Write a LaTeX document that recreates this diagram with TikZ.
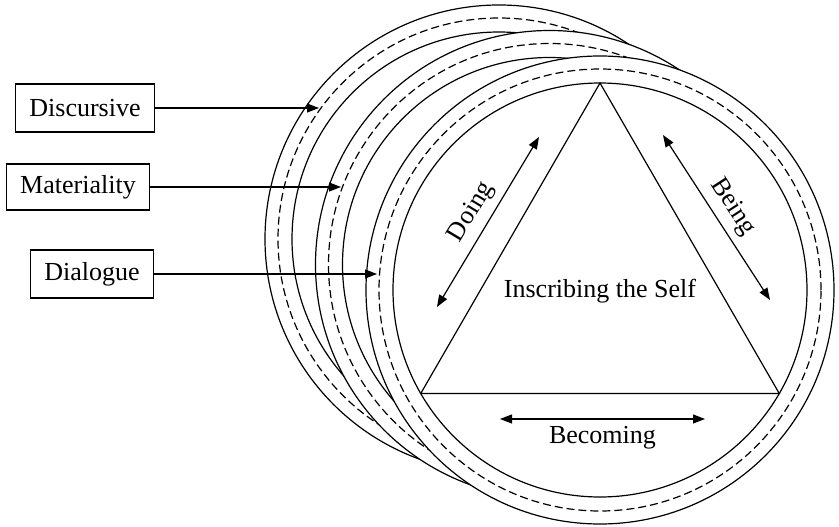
\documentclass[tikz,border=0pt]{standalone}
\usepackage{fontspec}
\setmainfont{Liberation Serif}
\usepackage{tikz}
\usetikzlibrary{arrows.meta,positioning}

\begin{document}
\begin{tikzpicture}[
  x=1pt, y=-1pt,
  every node/.style={font=\fontsize{26}{30}\selectfont},
  ring/.style={circle, draw, line width=1.2pt, inner sep=0pt, outer sep=0pt},
  outring/.style={ring, fill=white, minimum size=468pt},
  dashring/.style={ring, dash pattern=on 8pt off 4pt, minimum size=442pt},
  inring/.style={ring, minimum size=414pt},
  labelbox/.style={draw, line width=1.2pt, minimum height=48pt, inner xsep=14pt},
  arrow/.style={-{Triangle[length=12pt,width=9pt]}, line width=1.2pt},
  dblarrow/.style={{Triangle[length=12pt,width=9pt]}-{Triangle[length=12pt,width=9pt]}, line width=1.2pt}
]
\useasboundingbox (0,0) rectangle (839,527);

% three rings, back to front
\node[outring] (backOut) at (499,239) {};
\node[dashring] (backDash) at (499,239) {};
\node[inring] (backIn) at (499,239) {};
\node[outring] (midOut) at (549.5,264.5) {};
\node[dashring] (midDash) at (549.5,264.5) {};
\node[inring] (midIn) at (549.5,264.5) {};
\node[outring] (frontOut) at (600,290) {};
\node[dashring] (frontDash) at (600,290) {};
\node[inring] (frontIn) at (600,290) {};

% triangle in the front ring
\draw[line width=1.2pt] (frontIn.90) -- (frontIn.210) -- (frontIn.330) -- cycle;
\node (self) at (600,291) {Inscribing the Self};

\coordinate (doingA) at (437,307);
\coordinate (doingB) at (539,137);
\coordinate (beingA) at (663,135);
\coordinate (beingB) at (770,300);
\coordinate (becomingA) at (500,419);
\coordinate (becomingB) at (705,419);
\draw[dblarrow] (doingA) -- node[sloped, above=5pt, inner sep=2pt] {Doing} (doingB);
\draw[dblarrow] (beingA) -- node[sloped, above=5pt, inner sep=2pt] {Being} (beingB);
\draw[dblarrow] (becomingA) -- node[below=5pt, inner sep=2pt] {Becoming} (becomingB);

% labels on the left
\node[labelbox] (disc) at (85,108) {Discursive};
\node[labelbox, minimum height=46pt] (mat) at (78,187) {Materiality};
\node[labelbox] (dial) at (92,274) {Dialogue};

\coordinate (discTip) at (319,108);
\coordinate (matTip) at (341,187);
\coordinate (dialTip) at (377,274);
\draw[arrow] (disc) -- (discTip);
\draw[arrow] (mat) -- (matTip);
\draw[arrow] (dial) -- (dialTip);
\end{tikzpicture}
\end{document}
